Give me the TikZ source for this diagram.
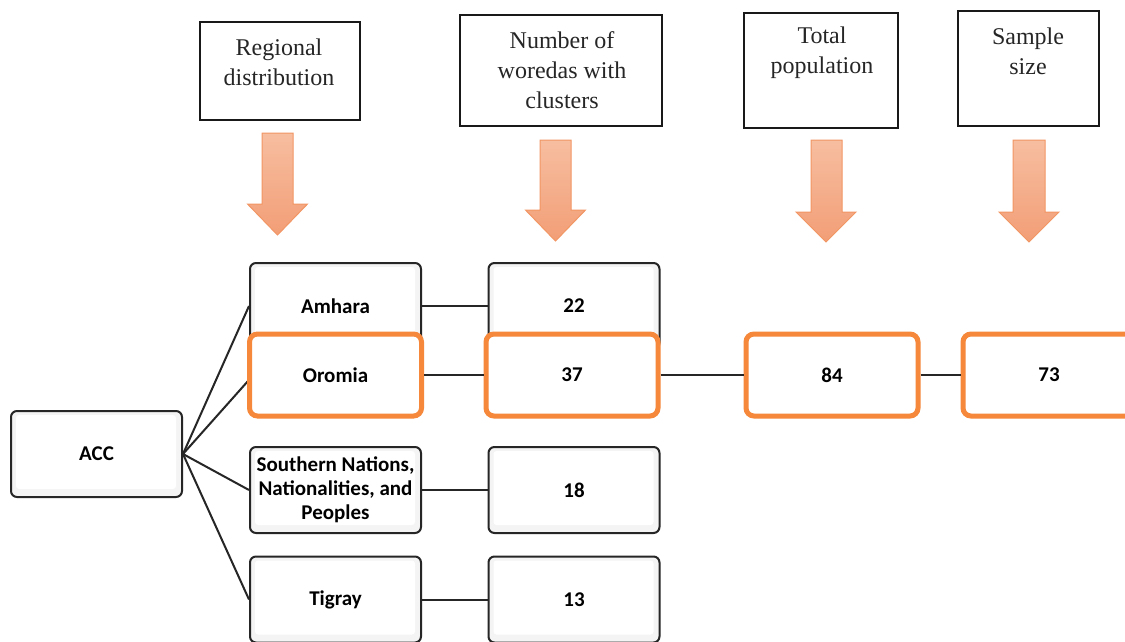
\documentclass[tikz,border=0pt]{standalone}
\usepackage{fontspec}
\setmainfont{Liberation Serif}
\newfontfamily\boxfont{Carlito}
\definecolor{orangeC}{RGB}{245,136,58}
\definecolor{arrowline}{RGB}{242,150,100}
\definecolor{arrowtop}{RGB}{247,190,160}
\definecolor{arrowbot}{RGB}{242,158,118}
\tikzset{
  bev/.style={rounded corners=6pt, draw=black!85, line width=2pt,
    minimum width=171pt, minimum height=86pt, inner sep=2pt, align=center,
    font=\boxfont\bfseries\fontsize{21}{24}\selectfont,
    path picture={
      \fill[gray!9] (path picture bounding box.south west) rectangle (path picture bounding box.north east);
      \fill[white, rounded corners=3pt] ([shift={(5pt,8pt)}]path picture bounding box.south west) rectangle ([shift={(-6pt,-4pt)}]path picture bounding box.north east);
    }},
  hot/.style={rounded corners=8pt, draw=orangeC, line width=5pt, fill=white,
    minimum width=172pt, minimum height=82pt, inner sep=2pt, align=center,
    font=\boxfont\bfseries\fontsize{21}{24}\selectfont},
  hdr/.style={draw=black!90, line width=1.3pt, fill=white},
  hdrtext/.style={align=center, text=black!85, font=\fontsize{24}{30}\selectfont},
  link/.style={draw=black!85, line width=2pt},
  blockarrow/.style={draw=arrowline, line width=1pt, top color=arrowtop, bottom color=arrowbot, line join=miter}
}
\begin{document}
\begin{tikzpicture}[x=1pt,y=-1pt]
\useasboundingbox (0,0) rectangle (1125,641);
\clip (0,0) rectangle (1125,641);
\fill[white] (0,0) rectangle (1125,641);

% header boxes
\node[hdr, minimum width=160pt, minimum height=98pt] (h1) at (280,71) {};
\node[hdrtext] (t1) at (279,62) {Regional\\distribution};
\node[hdr, minimum width=202pt, minimum height=111pt] (h2) at (561,70.5) {};
\node[hdrtext] (t2) at (562,70) {Number of\\woredas with\\clusters};
\node[hdr, minimum width=154pt, minimum height=115pt] (h3) at (821,70.5) {};
\node[hdrtext] (t3) at (822,53) {Total\\population};
\node[hdr, minimum width=141pt, minimum height=115pt] (h4) at (1028.5,68.5) {};
\node[hdrtext] (t4) at (1028,51) {Sample\\size};

% block arrows
\path[blockarrow] (262,133) -- (293,133) -- (293,204) -- (307.5,204) -- (277.5,235) -- (247.5,204) -- (262,204) -- cycle;
\path[blockarrow] (540,140) -- (571,140) -- (571,210) -- (585.5,210) -- (555.5,241) -- (525.5,210) -- (540,210) -- cycle;
\path[blockarrow] (811,140) -- (842,140) -- (842,212) -- (856,212) -- (826,242) -- (796,212) -- (811,212) -- cycle;
\path[blockarrow] (1013,140) -- (1045,140) -- (1045,212) -- (1059,212) -- (1029,242) -- (999,212) -- (1013,212) -- cycle;

% level boxes
\node[bev] (acc) at (96.5,454) {ACC};
\node[bev] (amh) at (335.5,306) {Amhara};
\node[bev] (w22) at (574,306) {22};
\node[bev] (snn) at (335.5,490) {Southern Nations,\\Nationalities, and\\Peoples};
\node[bev] (w18) at (574,490) {18};
\node[bev] (tig) at (335.5,599.5) {Tigray};
\node[bev] (w13) at (574,599.5) {13};

% connectors
\draw[link] (acc.east) -- (248,381) coordinate (oroin);
\draw[link] (acc.east) -- (amh.west);
\draw[link] (acc.east) -- (snn.west);
\draw[link] (acc.east) -- (tig.west);
\draw[link] (amh.east) -- (w22.west);
\draw[link] (snn.east) -- (w18.west);
\draw[link] (tig.east) -- (w13.west);

% highlighted path
\node[hot] (oro) at (335.5,375) {Oromia};
\node[hot] (w37) at (572,375) {37};
\node[hot] (p84) at (832,375) {84};
\node[hot] (s73) at (1049,375) {73};
\draw[link] (oro.east) -- (w37.west);
\draw[link] (w37.east) -- (p84.west);
\draw[link] (p84.east) -- (s73.west);
\end{tikzpicture}
\end{document}
